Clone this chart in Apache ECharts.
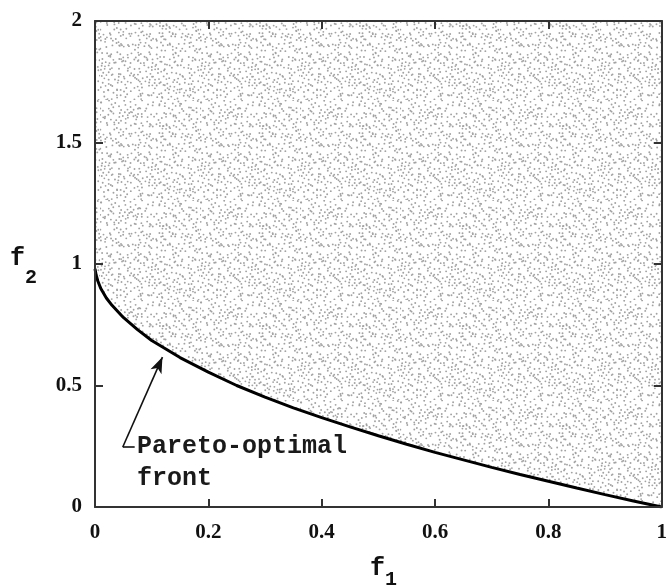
<!DOCTYPE html>
<html>
<head>
<meta charset="utf-8">
<script src="https://cdn.jsdelivr.net/npm/echarts@6/dist/echarts.min.js"></script>
<style>html,body{margin:0;padding:0;background:#fff}#c{width:670px;height:586px}</style>
</head>
<body>
<div id="c"></div>
<script>
// Pareto-optimal front
var f1Values = [0, 0.002, 0.005, 0.01, 0.02, 0.03, 0.05, 0.075, 0.1, 0.15, 0.2, 0.25, 0.3, 0.35, 0.4, 0.45, 0.5, 0.55, 0.6, 0.65, 0.7, 0.75, 0.8, 0.85, 0.9, 0.95, 1];
var f2Values = [0.98, 0.955, 0.93, 0.9, 0.86, 0.83, 0.78, 0.73, 0.685, 0.615, 0.555, 0.5, 0.452, 0.408, 0.368, 0.33, 0.293, 0.258, 0.225, 0.194, 0.163, 0.134, 0.106, 0.078, 0.051, 0.025, 0];
var xTicks = [0, 0.2, 0.4, 0.6, 0.8, 1];
var yTicks = [0, 0.5, 1, 1.5, 2];
// annotation anchor points (data coordinates)
var arrowTail = [0.049, 0.247];
var arrowTip = [0.119, 0.617];
var dashEnd = [0.070, 0.247];
var annotationLines = ['Pareto-optimal', 'front'];

// stipple texture (style only)
function makeStipple() {
  var c = document.createElement('canvas');
  c.width = 100; c.height = 100;
  var g = c.getContext('2d');
  g.fillStyle = '#ffffff';
  g.fillRect(0, 0, 100, 100);
  g.fillStyle = '#a2a2a2';
  var s = 987;
  function nx() { s = (s * 1103515245 + 12345) % 2147483648; return s / 2147483648; }
  for (var i = 0; i < 20; i++) {
    for (var j = 0; j < 20; j++) {
      var x = i * 5 + nx() * 5;
      var y = j * 5 + nx() * 5;
      g.beginPath();
      g.arc(x, y, 0.95, 0, Math.PI * 2);
      g.fill();
      if (nx() < 0.3) {
        g.beginPath();
        g.arc((x + 2.5 + nx()) % 100, (y + 2.2 + nx()) % 100, 0.9, 0, Math.PI * 2);
        g.fill();
      }
    }
  }
  return c;
}

var front = f1Values.map(function (v, i) { return [v, f2Values[i]]; });

var chart = echarts.init(document.getElementById('c'), null, { renderer: 'canvas' });
var labelFont = { fontFamily: 'Liberation Serif', fontWeight: 'bold', fontSize: 21, color: '#111' };
var axisLineStyle = { onZero: false, lineStyle: { color: '#333', width: 2 } };
var tickStyle = { inside: true, length: 8, lineStyle: { color: '#333', width: 2 } };

chart.setOption({
  animation: false,
  grid: { left: 95, right: 3, top: 21, bottom: 79 },
  xAxis: [
    { type: 'value', min: 0, max: 1, interval: 0.2, position: 'bottom', z: 10,
      axisLine: axisLineStyle, axisTick: tickStyle, splitLine: { show: false },
      axisLabel: Object.assign({ margin: 15, formatter: function (v) { return String(v); } }, labelFont) },
    { type: 'value', min: 0, max: 1, interval: 0.2, position: 'top', z: 10,
      axisLine: axisLineStyle, axisTick: tickStyle, splitLine: { show: false }, axisLabel: { show: false } }
  ],
  yAxis: [
    { type: 'value', min: 0, max: 2, interval: 0.5, position: 'left', z: 10,
      axisLine: axisLineStyle, axisTick: tickStyle, splitLine: { show: false },
      axisLabel: Object.assign({ margin: 13, formatter: function (v) { return String(v); } }, labelFont) },
    { type: 'value', min: 0, max: 2, interval: 0.5, position: 'right', z: 10,
      axisLine: axisLineStyle, axisTick: tickStyle, splitLine: { show: false }, axisLabel: { show: false } }
  ],
  series: [{
    type: 'line',
    data: front,
    showSymbol: false,
    smooth: false,
    z: 3,
    lineStyle: { color: '#000', width: 3 },
    areaStyle: { origin: 'end', opacity: 1, color: { image: makeStipple(), repeat: 'repeat' } },
    markLine: {
      silent: true,
      symbol: ['none', 'none'],
      animation: false,
      label: { show: false },
      lineStyle: { color: '#111', width: 1.6, type: 'solid' },
      data: [
        [{ coord: arrowTail, symbol: 'none' }, { coord: arrowTip, symbol: 'arrow', symbolSize: [9, 16] }],
        [{ coord: arrowTail, symbol: 'none' }, { coord: dashEnd, symbol: 'none' }]
      ]
    }
  }],
  graphic: [
    { type: 'text', left: 137, top: 434, style: { text: annotationLines[0], font: 'bold 25px "Liberation Mono"', fill: '#1a1a1a' } },
    { type: 'text', left: 137, top: 466, style: { text: annotationLines[1], font: 'bold 25px "Liberation Mono"', fill: '#1a1a1a' } },
    { type: 'text', left: 10, top: 246, style: { text: '{f|f}{s|2}', rich: {
        f: { fontFamily: 'Liberation Mono', fontWeight: 'bold', fontSize: 25, fill: '#111', verticalAlign: 'top' },
        s: { fontFamily: 'Liberation Mono', fontWeight: 'bold', fontSize: 20, fill: '#111', padding: [22, 0, 0, 0] } } } },
    { type: 'text', left: 370, top: 556, style: { text: '{f|f}{s|1}', rich: {
        f: { fontFamily: 'Liberation Mono', fontWeight: 'bold', fontSize: 25, fill: '#111' },
        s: { fontFamily: 'Liberation Mono', fontWeight: 'bold', fontSize: 20, fill: '#111', padding: [22, 0, 0, 0] } } } }
  ]
});
</script>
</body>
</html>
